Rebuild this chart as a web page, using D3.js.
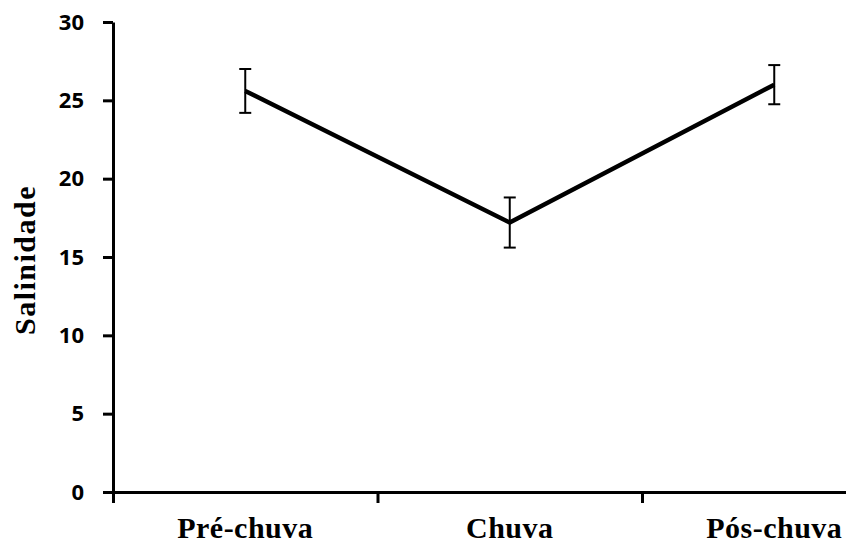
<!DOCTYPE html>
<html>
<head>
<meta charset="utf-8">
<script src="https://cdn.jsdelivr.net/npm/d3@7"></script>
<style>
  body { margin: 0; background: #fff; }
  svg { display: block; }
</style>
</head>
<body>
<svg class="chart" width="846" height="544"></svg>
<script>
// values
let categories = ['Pré-chuva', 'Chuva', 'Pós-chuva'];
let means = [25.6, 17.2, 26.0];
let errors = [1.4, 1.6, 1.25];
let yTicks = [0, 5, 10, 15, 20, 25, 30];

let svg = d3.select('svg.chart');

let x = d3.scaleBand()
  .domain(categories)
  .range([113, 906.5]);

// edges of the category bands, for the x axis tick marks
let xEdge = d3.scaleLinear()
  .domain([0, categories.length])
  .range(x.range());

let y = d3.scaleLinear()
  .domain([0, 30])
  .range([492, 22]);

let data = categories.map((c, i) => ({cat: c, mean: means[i], err: errors[i]}));

// y axis
let yAxis = svg.append('g')
  .attr('transform', 'translate(113,0)')
  .call(d3.axisLeft(y).tickValues(yTicks).tickSize(10).tickSizeOuter(0).tickPadding(19));

yAxis.select('.domain').attr('stroke', '#000').attr('stroke-width', 3);
yAxis.selectAll('.tick line').attr('stroke', '#000').attr('stroke-width', 3);
yAxis.selectAll('.tick text')
  .style('font-family', '"Open Sans", sans-serif')
  .style('font-weight', 'bold')
  .style('font-size', '22px')
  .attr('fill', '#000');

// x axis: ticks at band edges, no labels
let xAxis = svg.append('g')
  .attr('transform', 'translate(0,492)')
  .call(d3.axisBottom(xEdge).tickValues(d3.range(0, categories.length + 1)).tickSize(11).tickSizeOuter(0).tickFormat(''));

xAxis.select('.domain').attr('stroke', '#000').attr('stroke-width', 3);
xAxis.selectAll('.tick line').attr('stroke', '#000').attr('stroke-width', 3);

// category labels
svg.append('g')
  .selectAll('text.cat')
  .data(categories)
  .enter()
  .append('text')
  .attr('class', 'cat')
  .attr('x', d => x(d) + x.bandwidth() / 2)
  .attr('y', 538)
  .attr('text-anchor', 'middle')
  .style('font-family', '"Liberation Serif", "Times New Roman", serif')
  .style('font-weight', 'bold')
  .style('font-size', '30px')
  .style('letter-spacing', '0.5px')
  .text(d => d);

// y title
svg.append('text')
  .attr('transform', 'translate(35,260) rotate(-90)')
  .attr('text-anchor', 'middle')
  .style('font-family', '"Liberation Serif", "Times New Roman", serif')
  .style('font-weight', 'bold')
  .style('font-size', '30px')
  .style('letter-spacing', '1.5px')
  .text('Salinidade');

let cx = d => x(d.cat) + x.bandwidth() / 2;

// error bars
let eb = svg.append('g').attr('class', 'errorbars')
  .selectAll('g')
  .data(data)
  .enter()
  .append('g')
  .attr('stroke', '#000')
  .attr('stroke-width', 2);

eb.append('line')
  .attr('x1', cx).attr('x2', cx)
  .attr('y1', d => y(d.mean + d.err))
  .attr('y2', d => y(d.mean - d.err));

eb.append('line')
  .attr('x1', d => cx(d) - 6).attr('x2', d => cx(d) + 6)
  .attr('y1', d => y(d.mean + d.err))
  .attr('y2', d => y(d.mean + d.err));

eb.append('line')
  .attr('x1', d => cx(d) - 6).attr('x2', d => cx(d) + 6)
  .attr('y1', d => y(d.mean - d.err))
  .attr('y2', d => y(d.mean - d.err));

// mean line
let line = d3.line()
  .x(cx)
  .y(d => y(d.mean));

svg.append('path')
  .datum(data)
  .attr('d', line)
  .attr('fill', 'none')
  .attr('stroke', '#000')
  .attr('stroke-width', 4.5)
  .attr('stroke-linejoin', 'miter');
</script>
</body>
</html>
